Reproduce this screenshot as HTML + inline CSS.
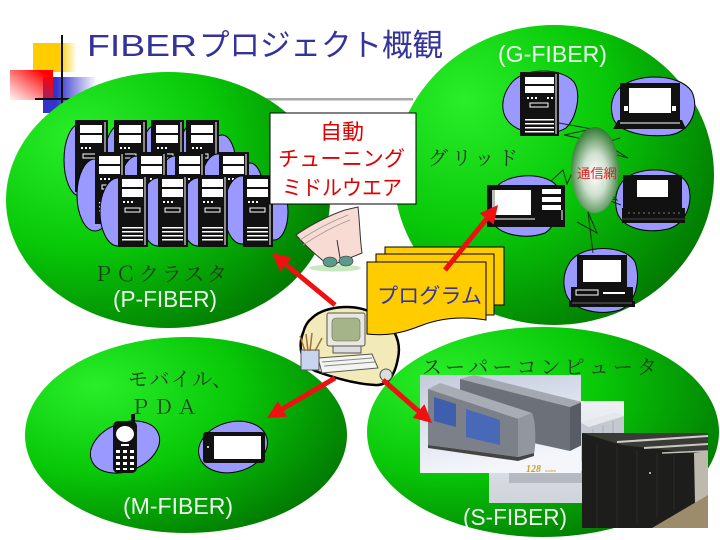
<!DOCTYPE html>
<html><head><meta charset="utf-8"><style>
html,body{margin:0;padding:0;background:#fff;}
svg{display:block;}
</style></head><body>
<svg width="720" height="540" viewBox="0 0 720 540" xmlns="http://www.w3.org/2000/svg">
<defs>
<radialGradient id="gr" cx="0.25" cy="0.28" r="0.95" fx="0.22" fy="0.25">
 <stop offset="0" stop-color="#2aee2a"/>
 <stop offset="0.45" stop-color="#08c808"/>
 <stop offset="1" stop-color="#006400"/>
</radialGradient>
<linearGradient id="yel" x1="0" x2="1"><stop offset="0.6" stop-color="#ffcc00"/><stop offset="1" stop-color="#ffcc00" stop-opacity="0"/></linearGradient>
<linearGradient id="red" x1="0" y1="1" x2="1" y2="0"><stop offset="0" stop-color="#ff2020" stop-opacity="0.05"/><stop offset="0.85" stop-color="#ff0000"/></linearGradient>
<linearGradient id="blu" x1="0" x2="1"><stop offset="0.25" stop-color="#3333cc"/><stop offset="1" stop-color="#3333cc" stop-opacity="0"/></linearGradient>
<radialGradient id="cloud" cx="0.5" cy="0.55" r="0.55"><stop offset="0" stop-color="#ffffff"/><stop offset="0.45" stop-color="#cfe0cf"/><stop offset="1" stop-color="#2f7a2f"/></radialGradient>
<linearGradient id="p1bg" x1="0" y1="0" x2="0.3" y2="1"><stop offset="0" stop-color="#c2c9da"/><stop offset="0.5" stop-color="#dde2ee"/><stop offset="1" stop-color="#f4f6fb"/></linearGradient>
<linearGradient id="p2bg" x1="0" y1="0" x2="0" y2="1"><stop offset="0" stop-color="#eef0f5"/><stop offset="1" stop-color="#cfd3da"/></linearGradient>
</defs>

<rect width="720" height="540" fill="#fff"/>

<rect x="263" y="98" width="150" height="2.5" fill="#a8a8a8"/>

<rect x="33" y="43" width="44" height="29" fill="url(#yel)"/>
<rect x="43" y="77" width="54" height="36" fill="url(#blu)"/>
<rect x="10" y="70" width="43" height="30" fill="url(#red)"/>
<line x1="62" y1="35" x2="62" y2="104" stroke="#111" stroke-width="2"/>
<line x1="35" y1="99" x2="72" y2="99" stroke="#111" stroke-width="2"/>

<text x="87" y="56" font-family="Liberation Sans, sans-serif" font-size="31" fill="#333399" textLength="110" lengthAdjust="spacingAndGlyphs">FIBER</text>
<text x="199" y="56" font-family="Liberation Sans, 'Noto Sans CJK JP', sans-serif" font-size="31" fill="#333399" textLength="244" lengthAdjust="spacingAndGlyphs">プロジェクト概観</text>

<ellipse cx="168" cy="200" rx="162" ry="128" fill="url(#gr)"/>
<ellipse cx="554" cy="175" rx="160" ry="150" fill="url(#gr)"/>
<ellipse cx="186" cy="435" rx="161" ry="98" fill="url(#gr)"/>
<ellipse cx="543" cy="432" rx="176" ry="105" fill="url(#gr)"/>

<g stroke="#000" stroke-width="1" fill="#9999ff">
 <ellipse cx="80" cy="160" rx="16" ry="36"/>
 <ellipse cx="122" cy="160" rx="18" ry="36"/>
 <ellipse cx="158" cy="160" rx="18" ry="36"/>
 <ellipse cx="196" cy="158" rx="18" ry="36"/>
 <ellipse cx="222" cy="165" rx="14" ry="30"/>
</g>
<g>
 <g transform="translate(75,120)"><rect width="33" height="72" fill="#111"/><rect x="5" y="5" width="22" height="8" fill="#fff"/><rect x="5" y="15" width="22" height="8" fill="#fff"/><rect x="6" y="27" width="2" height="2" fill="#fff"/><rect x="10" y="27" width="2" height="2" fill="#fff"/><rect x="14" y="27" width="2" height="2" fill="#fff"/><rect x="8" y="34" width="14" height="4" fill="none" stroke="#fff"/><line x1="30" y1="2" x2="30" y2="70" stroke="#fff"/></g>
 <g transform="translate(114,120)"><rect width="33" height="72" fill="#111"/><rect x="5" y="5" width="22" height="8" fill="#fff"/><rect x="5" y="15" width="22" height="8" fill="#fff"/><rect x="6" y="27" width="2" height="2" fill="#fff"/><rect x="10" y="27" width="2" height="2" fill="#fff"/><rect x="14" y="27" width="2" height="2" fill="#fff"/><rect x="8" y="34" width="14" height="4" fill="none" stroke="#fff"/><line x1="30" y1="2" x2="30" y2="70" stroke="#fff"/></g>
 <g transform="translate(151,120)"><rect width="33" height="72" fill="#111"/><rect x="5" y="5" width="22" height="8" fill="#fff"/><rect x="5" y="15" width="22" height="8" fill="#fff"/><rect x="6" y="27" width="2" height="2" fill="#fff"/><rect x="10" y="27" width="2" height="2" fill="#fff"/><rect x="14" y="27" width="2" height="2" fill="#fff"/><rect x="8" y="34" width="14" height="4" fill="none" stroke="#fff"/><line x1="30" y1="2" x2="30" y2="70" stroke="#fff"/></g>
 <g transform="translate(186,120)"><rect width="33" height="72" fill="#111"/><rect x="5" y="5" width="22" height="8" fill="#fff"/><rect x="5" y="15" width="22" height="8" fill="#fff"/><rect x="6" y="27" width="2" height="2" fill="#fff"/><rect x="10" y="27" width="2" height="2" fill="#fff"/><rect x="14" y="27" width="2" height="2" fill="#fff"/><rect x="8" y="34" width="14" height="4" fill="none" stroke="#fff"/><line x1="30" y1="2" x2="30" y2="70" stroke="#fff"/></g>
</g>
<g stroke="#000" stroke-width="1" fill="#9999ff">
 <ellipse cx="95" cy="195" rx="18" ry="36"/>
 <ellipse cx="137" cy="192" rx="18" ry="36"/>
 <ellipse cx="175" cy="192" rx="18" ry="36"/>
 <ellipse cx="218" cy="190" rx="18" ry="36"/>
 <ellipse cx="250" cy="195" rx="14" ry="32"/>
</g>
<g>
 <g transform="translate(95,152)"><rect width="30" height="72" fill="#111"/><rect x="4" y="4" width="21" height="8" fill="#fff"/><rect x="4" y="14" width="21" height="8" fill="#fff"/><rect x="5" y="26" width="2" height="2" fill="#fff"/><rect x="9" y="26" width="2" height="2" fill="#fff"/><rect x="13" y="26" width="2" height="2" fill="#fff"/><rect x="7" y="33" width="14" height="4" fill="none" stroke="#fff"/><line x1="27" y1="2" x2="27" y2="70" stroke="#fff"/><rect x="4" y="50" width="20" height="1.5" fill="#fff"/><rect x="4" y="54" width="20" height="1.5" fill="#fff"/><rect x="4" y="58" width="20" height="1.5" fill="#fff"/></g>
 <g transform="translate(137,152)"><rect width="30" height="72" fill="#111"/><rect x="4" y="4" width="21" height="8" fill="#fff"/><rect x="4" y="14" width="21" height="8" fill="#fff"/><rect x="5" y="26" width="2" height="2" fill="#fff"/><rect x="9" y="26" width="2" height="2" fill="#fff"/><rect x="13" y="26" width="2" height="2" fill="#fff"/><line x1="27" y1="2" x2="27" y2="70" stroke="#fff"/></g>
 <g transform="translate(175,152)"><rect width="30" height="72" fill="#111"/><rect x="4" y="4" width="21" height="8" fill="#fff"/><rect x="4" y="14" width="21" height="8" fill="#fff"/><rect x="5" y="26" width="2" height="2" fill="#fff"/><rect x="9" y="26" width="2" height="2" fill="#fff"/><rect x="13" y="26" width="2" height="2" fill="#fff"/><line x1="27" y1="2" x2="27" y2="70" stroke="#fff"/></g>
 <g transform="translate(219,152)"><rect width="30" height="72" fill="#111"/><rect x="4" y="4" width="21" height="8" fill="#fff"/><rect x="4" y="14" width="21" height="8" fill="#fff"/><rect x="5" y="26" width="2" height="2" fill="#fff"/><rect x="9" y="26" width="2" height="2" fill="#fff"/><rect x="13" y="26" width="2" height="2" fill="#fff"/><line x1="27" y1="2" x2="27" y2="70" stroke="#fff"/></g>
</g>
<g stroke="#000" stroke-width="1" fill="#9999ff">
 <ellipse cx="118" cy="212" rx="18" ry="34"/>
 <ellipse cx="158" cy="212" rx="18" ry="34"/>
 <ellipse cx="198" cy="212" rx="18" ry="34"/>
 <ellipse cx="242" cy="210" rx="18" ry="34"/>
 <ellipse cx="274" cy="212" rx="14" ry="28"/>
</g>
<g>
 <g transform="translate(118,175)"><rect width="30" height="72" fill="#111"/><rect x="4" y="4" width="21" height="8" fill="#fff"/><rect x="4" y="14" width="21" height="8" fill="#fff"/><rect x="5" y="26" width="2" height="2" fill="#fff"/><rect x="9" y="26" width="2" height="2" fill="#fff"/><rect x="13" y="26" width="2" height="2" fill="#fff"/><rect x="7" y="33" width="15" height="4" fill="none" stroke="#fff"/><line x1="27" y1="2" x2="27" y2="70" stroke="#fff"/><rect x="4" y="52" width="21" height="1.5" fill="#fff"/><rect x="4" y="56" width="21" height="1.5" fill="#fff"/><rect x="4" y="60" width="21" height="1.5" fill="#fff"/><rect x="4" y="64" width="21" height="1.5" fill="#fff"/></g>
 <g transform="translate(158,175)"><rect width="30" height="72" fill="#111"/><rect x="4" y="4" width="21" height="8" fill="#fff"/><rect x="4" y="14" width="21" height="8" fill="#fff"/><rect x="5" y="26" width="2" height="2" fill="#fff"/><rect x="9" y="26" width="2" height="2" fill="#fff"/><rect x="13" y="26" width="2" height="2" fill="#fff"/><rect x="7" y="33" width="15" height="4" fill="none" stroke="#fff"/><line x1="27" y1="2" x2="27" y2="70" stroke="#fff"/><rect x="4" y="52" width="21" height="1.5" fill="#fff"/><rect x="4" y="56" width="21" height="1.5" fill="#fff"/><rect x="4" y="60" width="21" height="1.5" fill="#fff"/><rect x="4" y="64" width="21" height="1.5" fill="#fff"/></g>
 <g transform="translate(198,175)"><rect width="30" height="72" fill="#111"/><rect x="4" y="4" width="21" height="8" fill="#fff"/><rect x="4" y="14" width="21" height="8" fill="#fff"/><rect x="5" y="26" width="2" height="2" fill="#fff"/><rect x="9" y="26" width="2" height="2" fill="#fff"/><rect x="13" y="26" width="2" height="2" fill="#fff"/><rect x="7" y="33" width="15" height="4" fill="none" stroke="#fff"/><line x1="27" y1="2" x2="27" y2="70" stroke="#fff"/><rect x="4" y="52" width="21" height="1.5" fill="#fff"/><rect x="4" y="56" width="21" height="1.5" fill="#fff"/><rect x="4" y="60" width="21" height="1.5" fill="#fff"/><rect x="4" y="64" width="21" height="1.5" fill="#fff"/></g>
 <g transform="translate(243,175)"><rect width="30" height="72" fill="#111"/><rect x="4" y="4" width="21" height="8" fill="#fff"/><rect x="4" y="14" width="21" height="8" fill="#fff"/><rect x="5" y="26" width="2" height="2" fill="#fff"/><rect x="9" y="26" width="2" height="2" fill="#fff"/><rect x="13" y="26" width="2" height="2" fill="#fff"/><rect x="7" y="33" width="15" height="4" fill="none" stroke="#fff"/><line x1="27" y1="2" x2="27" y2="70" stroke="#fff"/><rect x="4" y="52" width="21" height="1.5" fill="#fff"/><rect x="4" y="56" width="21" height="1.5" fill="#fff"/><rect x="4" y="60" width="21" height="1.5" fill="#fff"/><rect x="4" y="64" width="21" height="1.5" fill="#fff"/></g>
</g>

<text x="93" y="281" font-family="'Liberation Serif', 'Noto Serif CJK SC', serif" font-size="20" fill="#1e3a1e" textLength="134" lengthAdjust="spacing">ＰＣクラスタ</text>
<text x="113" y="307" font-family="Liberation Sans, sans-serif" font-size="23" fill="#eef8ee" textLength="104" lengthAdjust="spacingAndGlyphs">(P-FIBER)</text>

<text x="498" y="62" font-family="Liberation Sans, sans-serif" font-size="23" fill="#eef8ee" textLength="109" lengthAdjust="spacingAndGlyphs">(G-FIBER)</text>
<text x="428" y="165" font-family="'Liberation Serif', 'Noto Serif CJK SC', serif" font-size="20" fill="#1e3a1e" textLength="90" lengthAdjust="spacing">グリッド</text>

<g stroke="#000" stroke-width="1" fill="#9999ff">
 <path d="M510,85 C520,68 560,66 574,82 C582,95 576,118 566,128 C550,138 515,135 506,118 C500,108 503,94 510,85 Z"/>
 <path d="M616,92 C630,72 680,72 692,92 C700,110 690,132 670,135 C645,138 618,132 613,118 C610,108 611,100 616,92 Z"/>
 <path d="M494,190 C505,172 545,172 556,185 C562,200 558,225 545,233 C525,240 500,235 492,222 C487,212 488,200 494,190 Z"/>
 <path d="M622,182 C635,165 680,166 688,185 C694,202 686,224 668,229 C645,234 622,228 617,212 C614,200 616,190 622,182 Z"/>
 <path d="M570,262 C582,244 625,244 635,262 C641,280 636,303 620,310 C598,316 572,310 566,294 C562,282 564,271 570,262 Z"/>
</g>

<g fill="none" stroke="#1a2a1a" stroke-width="1">
 <polyline points="559,123 592,129 564,135 583,139"/>
 <polyline points="620,138 604,143 628,158 607,152"/>
 <polyline points="552,180 563,170 567,184 580,156"/>
 <polyline points="595,180 617,200 600,197 621,205"/>
 <polyline points="577,222 597,233 588,212 593,253"/>
</g>

<ellipse cx="595" cy="170" rx="24" ry="43" fill="url(#cloud)"/>
<text x="577" y="178" font-family="Liberation Sans, 'Noto Sans CJK JP', sans-serif" font-size="13" fill="#e02020" textLength="40" lengthAdjust="spacingAndGlyphs">通信網</text>

<g transform="translate(520,72)">
 <rect width="39" height="64" fill="#111"/>
 <rect x="5" y="5" width="29" height="7" fill="#fff"/>
 <rect x="5" y="14" width="29" height="7" fill="#fff"/>
 <rect x="7" y="25" width="2" height="2" fill="#fff"/><rect x="11" y="25" width="2" height="2" fill="#fff"/><rect x="15" y="25" width="2" height="2" fill="#fff"/><rect x="27" y="25" width="2" height="2" fill="#fff"/><rect x="31" y="25" width="2" height="2" fill="#fff"/>
 <rect x="10" y="31" width="18" height="4" fill="none" stroke="#fff"/>
 <line x1="36" y1="2" x2="36" y2="62" stroke="#fff"/>
 <rect x="5" y="47" width="29" height="1.5" fill="#fff"/><rect x="5" y="51" width="29" height="1.5" fill="#fff"/><rect x="5" y="55" width="29" height="1.5" fill="#fff"/><rect x="5" y="59" width="29" height="1.5" fill="#fff"/>
</g>
<g>
 <rect x="620" y="83" width="60" height="37" fill="#111"/>
 <rect x="629" y="88" width="42" height="25" fill="#fff"/>
 <rect x="624" y="106" width="4" height="5" fill="#fff"/><rect x="672" y="106" width="4" height="5" fill="#fff"/>
 <polygon points="618,120 682,120 686,129 613,129" fill="#111"/>
 <line x1="620" y1="123" x2="680" y2="123" stroke="#fff"/>
</g>
<g>
 <rect x="487" y="185" width="51" height="42" fill="#111"/>
 <rect x="492" y="190" width="39" height="25" fill="#fff"/>
 <rect x="492" y="190" width="3" height="25" fill="#bbb"/>
 <line x1="490" y1="219" x2="535" y2="219" stroke="#fff"/>
 <rect x="538" y="185" width="27" height="42" fill="#111"/>
 <rect x="542" y="189" width="19" height="5" fill="#fff"/>
 <rect x="542" y="197" width="19" height="5" fill="#fff"/>
 <rect x="542" y="205" width="19" height="5" fill="#fff"/>
 <line x1="562" y1="210" x2="562" y2="220" stroke="#fff"/>
</g>
<g>
 <rect x="623" y="175" width="59" height="34" fill="#111"/>
 <rect x="637" y="180" width="31" height="17" fill="#fff"/>
 <rect x="622" y="208" width="63" height="15" fill="#111"/>
 <line x1="628" y1="213" x2="680" y2="213" stroke="#777" stroke-dasharray="2,3"/>
 <line x1="622" y1="219" x2="685" y2="219" stroke="#444"/>
</g>
<g>
 <rect x="577" y="255" width="50" height="33" fill="#111"/>
 <rect x="583" y="260" width="38" height="22" fill="#fff"/>
 <rect x="571" y="287" width="62" height="14" fill="#111"/>
 <rect x="576" y="290" width="22" height="5" fill="none" stroke="#fff"/>
 <rect x="603" y="292" width="22" height="2" fill="#fff"/>
 <rect x="569" y="301" width="66" height="6" fill="#111"/>
 <line x1="572" y1="303" x2="632" y2="303" stroke="#666"/>
</g>

<text x="128" y="386" font-family="'Liberation Serif', 'Noto Serif CJK SC', serif" font-size="20" fill="#1e3a1e" textLength="104" lengthAdjust="spacing">モバイル、</text>
<text x="130" y="414" font-family="'Liberation Serif', 'Noto Serif CJK SC', serif" font-size="20" fill="#1e3a1e" textLength="67" lengthAdjust="spacing">ＰＤＡ</text>
<ellipse cx="125" cy="447" rx="36" ry="24" transform="rotate(-22 125 447)" fill="#9999ff" stroke="#000"/>
<ellipse cx="233" cy="447" rx="35" ry="25" transform="rotate(-15 233 447)" fill="#9999ff" stroke="#000"/>
<g>
 <rect x="131" y="414" width="4" height="10" fill="#111"/>
 <rect x="113" y="421" width="24" height="52" rx="5" fill="#111"/>
 <ellipse cx="125" cy="434" rx="9" ry="8" fill="#fff"/>
 <rect x="121" y="444" width="8" height="2" fill="#fff"/>
 <g fill="#fff">
  <rect x="116" y="450" width="4" height="3"/><rect x="123" y="450" width="4" height="3"/><rect x="130" y="450" width="4" height="3"/>
  <rect x="116" y="456" width="4" height="3"/><rect x="123" y="456" width="4" height="3"/><rect x="130" y="456" width="4" height="3"/>
  <rect x="116" y="462" width="4" height="3"/><rect x="123" y="462" width="4" height="3"/><rect x="130" y="462" width="4" height="3"/>
  <rect x="116" y="468" width="4" height="2"/><rect x="123" y="468" width="4" height="2"/><rect x="130" y="468" width="4" height="2"/>
 </g>
 <rect x="203" y="432" width="62" height="31" rx="3" fill="#111"/>
 <rect x="214" y="436" width="47" height="23" fill="#fff"/>
 <circle cx="208" cy="447" r="1" fill="#fff"/>
</g>
<text x="123" y="514" font-family="Liberation Sans, sans-serif" font-size="23" fill="#eef8ee" textLength="110" lengthAdjust="spacingAndGlyphs">(M-FIBER)</text>

<text x="422" y="374" font-family="'Liberation Serif', 'Noto Serif CJK SC', serif" font-size="20" fill="#1e3a1e" textLength="235" lengthAdjust="spacing">スーパーコンピュータ</text>

<svg x="489" y="401" width="135" height="102" viewBox="0 0 135 102">
 <rect width="135" height="102" fill="url(#p2bg)"/>
 <polygon points="92,22 126,12 135,15 135,58 100,64 92,60" fill="#c4c8d0"/>
 <polygon points="92,22 126,12 135,15 100,26" fill="#e4e7ec"/>
 <line x1="104" y1="28" x2="104" y2="62" stroke="#aab0b8"/>
 <line x1="114" y1="24" x2="114" y2="60" stroke="#aab0b8"/>
 <line x1="124" y1="20" x2="124" y2="59" stroke="#aab0b8"/>
 <rect x="20" y="70" width="75" height="12" fill="#9ea2aa" opacity="0.6"/>
</svg>
<svg x="582" y="433" width="126" height="95" viewBox="0 0 126 95">
 <rect width="126" height="95" fill="#1d1d1b"/>
 <polygon points="0,0 126,0 126,22 40,12" fill="#3a3a36"/>
 <line x1="35" y1="9" x2="126" y2="3" stroke="#d0d0c8" stroke-width="2"/>
 <line x1="62" y1="15" x2="126" y2="11" stroke="#c8c8c0" stroke-width="2"/>
 <line x1="80" y1="20" x2="126" y2="18" stroke="#c0c0b8" stroke-width="1.5"/>
 <polygon points="112,20 126,18 126,66 113,70" fill="#bdb9ad"/>
 <polygon points="70,95 126,62 126,95" fill="#9c8c6c"/>
 <g stroke="#2c2c2a" stroke-width="1">
  <line x1="15" y1="12" x2="15" y2="95"/><line x1="35" y1="14" x2="35" y2="95"/><line x1="55" y1="17" x2="55" y2="90"/><line x1="75" y1="20" x2="75" y2="84"/><line x1="92" y1="22" x2="92" y2="76"/>
 </g>
 <circle cx="68" cy="40" r="1" fill="#ddd"/>
</svg>
<svg x="420" y="375" width="161" height="98" viewBox="0 0 161 98">
 <rect width="161" height="98" fill="url(#p1bg)"/>
 <polygon points="40,4 54,0 162,27 150,32" fill="#a4a8b0"/>
 <polygon points="40,4 150,32 150,76 40,52" fill="#6c7079"/>
 <polygon points="150,32 162,27 162,70 150,76" fill="#585c64"/>
 <polygon points="8,14 20,8 112,38 98,44" fill="#a8acb4"/>
 <polygon points="8,14 98,44 98,82 8,70" fill="#7c8089"/>
 <path d="M98,44 L112,38 C116,45 116,72 114,78 L98,82 Z" fill="#92969e"/>
 <polygon points="14,22 36,29 36,52 14,46" fill="#3f5fae"/>
 <polygon points="46,34 80,45 80,70 46,62" fill="#4868b8"/>
 <polygon points="8,70 98,82 114,78 114,81 98,86 8,73" fill="#444"/>
 <text x="106" y="97" font-family="Liberation Serif, serif" font-style="italic" font-weight="bold" font-size="10" fill="#c9a227">128</text>
 <text x="125" y="97" font-family="Liberation Sans, sans-serif" font-size="4" fill="#c9a227">nodes</text>
</svg>
<text x="463" y="525" font-family="Liberation Sans, sans-serif" font-size="23" fill="#eef8ee" textLength="104" lengthAdjust="spacingAndGlyphs">(S-FIBER)</text>

<rect x="270" y="113" width="146" height="91" fill="#fff" stroke="#000" stroke-width="1"/>
<g font-family="Liberation Sans, 'Noto Sans CJK JP', sans-serif" font-size="21" fill="#e00000">
 <text x="320" y="139" textLength="44" lengthAdjust="spacingAndGlyphs">自動</text>
 <text x="278" y="166" textLength="127" lengthAdjust="spacingAndGlyphs">チューニング</text>
 <text x="282" y="195" textLength="120" lengthAdjust="spacingAndGlyphs">ミドルウエア</text>
</g>

<ellipse cx="335" cy="268" rx="26" ry="3.5" fill="#c8e8c0"/>
<path d="M296,235 C310,225 330,215 345,210 L358,207 C360,225 360,240 362,253 L330,266 C315,255 305,245 296,235 Z" fill="#f8dcd4" stroke="#333" stroke-width="1"/>
<path d="M300,240 C312,232 330,222 348,215" fill="none" stroke="#999" stroke-width="0.8"/>
<path d="M303,245 C315,237 332,227 350,220" fill="none" stroke="#999" stroke-width="0.8"/>
<line x1="337" y1="240" x2="340" y2="258" stroke="#333"/>
<ellipse cx="330" cy="262" rx="7" ry="5" fill="#5a9a8a" stroke="#333" stroke-width="0.6"/>
<ellipse cx="346" cy="261" rx="7" ry="5" fill="#5a9a8a" stroke="#333" stroke-width="0.6"/>

<path d="M312,318 C325,305 360,303 375,315 C392,322 402,340 398,358 C395,375 388,386 375,385 C355,384 335,378 318,372 C300,366 298,345 303,333 C305,325 308,321 312,318 Z" fill="#f2eab8" stroke="#000" stroke-width="2.5"/>
<rect x="327" y="313" width="38" height="33" rx="2" fill="#e8e8e0" stroke="#555"/>
<rect x="332" y="318" width="28" height="23" rx="4" fill="#a6b48a" stroke="#666" stroke-width="0.6"/>
<rect x="333" y="346" width="28" height="7" fill="#ddd" stroke="#555"/>
<polygon points="318,358 372,354 378,368 322,373" fill="#f4f4f0" stroke="#555"/>
<line x1="322" y1="362" x2="372" y2="358" stroke="#888"/>
<line x1="324" y1="366" x2="375" y2="362" stroke="#888"/>
<rect x="301" y="350" width="18" height="20" fill="#c8d4f0" stroke="#555"/>
<g stroke="#a0703a" stroke-width="1.5"><line x1="305" y1="351" x2="300" y2="336"/><line x1="310" y1="351" x2="312" y2="333"/><line x1="315" y1="351" x2="322" y2="338"/><line x1="308" y1="351" x2="306" y2="334"/></g>
<circle cx="386" cy="375" r="6" fill="#ddd" stroke="#555"/>

<rect x="385" y="247" width="119" height="58" fill="#ffcc00" stroke="#000" stroke-width="1"/>
<rect x="376" y="254" width="118" height="61" fill="#ffcc00" stroke="#000" stroke-width="1"/>
<path d="M367,262 H486 V320 C462,316 440,318 420,326 C400,334 385,336 367,334 Z" fill="#ffcc00" stroke="#000" stroke-width="1"/>
<text x="377" y="303" font-family="Liberation Sans, 'Noto Sans CJK JP', sans-serif" font-size="21" fill="#3333aa" textLength="105" lengthAdjust="spacingAndGlyphs">プログラム</text>

<g fill="#ee1111" stroke="#ee1111">
 <line x1="335" y1="305" x2="286" y2="264.5" stroke-width="5"/>
 <polygon points="272,253 291.6,257.6 280.2,271.4" stroke="none"/>
 <line x1="445" y1="270" x2="486.6" y2="218.9" stroke-width="5"/>
 <polygon points="498,205 493.6,224.6 479.6,213.2" stroke="none"/>
 <line x1="335" y1="378" x2="282.5" y2="408.9" stroke-width="5"/>
 <polygon points="267,418 277.9,401.1 287.1,416.7" stroke="none"/>
 <line x1="383" y1="380" x2="418.5" y2="411.1" stroke-width="5"/>
 <polygon points="432,423 412.6,417.9 424.4,404.3" stroke="none"/>
</g>
</svg>
</body></html>
